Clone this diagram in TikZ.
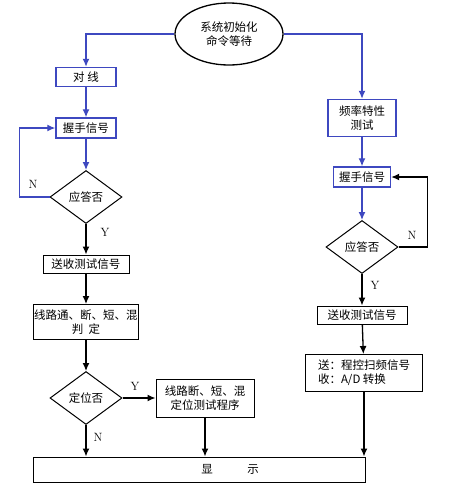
\documentclass[tikz,border=0pt]{standalone}
\usepackage{fontspec}
\newfontfamily\cjk{Noto Sans CJK SC}
\usetikzlibrary{arrows,arrows.meta,shapes.geometric,positioning}
\definecolor{lineblue}{RGB}{62,72,192}
\tikzstyle{arrow} = [line width=1.3pt,->,>={Latex[length=8pt,width=7pt]}]
\tikzstyle{barrow} = [arrow, lineblue]
\tikzstyle{box} = [draw, line width=1pt, inner sep=2pt, align=center, font=\cjk\fontsize{11.5}{14}\selectfont]
\tikzstyle{bbox} = [box, draw=lineblue, line width=1.4pt]
\tikzstyle{decide} = [draw, diamond, line width=1pt, minimum width=72pt, minimum height=53pt, inner sep=0pt, font=\cjk\fontsize{11.5}{14}\selectfont]
\tikzstyle{yn} = [font=\fontsize{12}{14}\selectfont]

\begin{document}
\begin{tikzpicture}[x=1pt,y=-1pt]
    \useasboundingbox (0,0) rectangle (462,491);
    % start
    \node[draw, ellipse, line width=1.3pt, minimum width=108pt, minimum height=62pt, inner sep=0pt, align=center, font=\cjk\fontsize{11.5}{14}\selectfont] (start) at (229,34) {系统初始化\\命令等待};
    % left branch
    \node[bbox, minimum width=60pt, minimum height=19pt] (line) at (86,77) {对\ 线};
    \node[bbox, minimum width=60pt, minimum height=20pt] (shakeL) at (86,128) {握手信号};
    \node[decide] (askL) at (86,197) {应答否};
    \node[box, minimum width=86pt, minimum height=18pt, inner sep=1pt] (sendL) at (86,264) {送收测试信号};
    \node[box, minimum width=105pt, minimum height=35pt, inner sep=1pt] (judge) at (86,322) {线路通、断、短、混\\判\ \ 定};
    \node[decide] (loc) at (86,398) {定位否};
    \node[box, minimum width=98pt, minimum height=38pt, inner sep=1pt] (prog) at (205,398) {线路断、短、混\\定位测试程序};
    % right branch
    \node[bbox, minimum width=68pt, minimum height=37pt] (freq) at (362,118) {频率特性\\测试};
    \node[bbox, minimum width=57pt, minimum height=20pt, inner sep=1pt] (shakeR) at (362,177) {握手信号};
    \node[decide] (askR) at (362,247) {应答否};
    \node[box, minimum width=90pt, minimum height=18pt, inner sep=1pt] (sendR) at (362,315) {送收测试信号};
    \node[box, minimum width=117pt, minimum height=37pt, inner sep=1pt, align=left] (sweep) at (364,373) {送：程控扫频信号\\收：A/D 转换};
    % display
    \node[box, minimum width=332pt, minimum height=25pt] (show) at (199,469.5) {};
    \node[font=\cjk\fontsize{11.5}{14}\selectfont] (showtxt) at (230,469.5) {显\hspace{3em}示};

    % blue connectors
    \draw[barrow] (start.west) -| (line.north);
    \draw[barrow] (start.east) -| (freq.north);
    \draw[barrow] (line) -- (shakeL);
    \draw[barrow] (shakeL) -- (askL);
    \draw[barrow] (askL.west) -- ++(-30,0) |- (shakeL.west);
    \draw[barrow] (freq) -- (shakeR);
    \draw[barrow] (shakeR) -- (askR);
    % black connectors
    \draw[arrow] (askR.east) -- ++(29,0) |- (shakeR.east);
    \draw[arrow] (askL) -- (sendL);
    \draw[arrow] (sendL) -- (judge);
    \draw[arrow] (judge) -- (loc);
    \draw[arrow] (loc) -- (prog);
    \draw[arrow] (loc.south) -- (loc.south |- show.north);
    \draw[arrow] (prog.south) -- (prog.south |- show.north);
    \draw[arrow] (askR) -- (sendR);
    \draw[arrow] (sendR) -- (sweep);
    \draw[arrow] (sweep.south) -- (sweep.south |- show.north);

    % labels
    \node[yn] (nL) at (33,184) {N};
    \node[yn] (yL) at (105,232) {Y};
    \node[yn] (nR) at (412,235) {N};
    \node[yn] (yR) at (375,285) {Y};
    \node[yn] (yLoc) at (135,386) {Y};
    \node[yn] (nLoc) at (98,437) {N};
\end{tikzpicture}
\end{document}
